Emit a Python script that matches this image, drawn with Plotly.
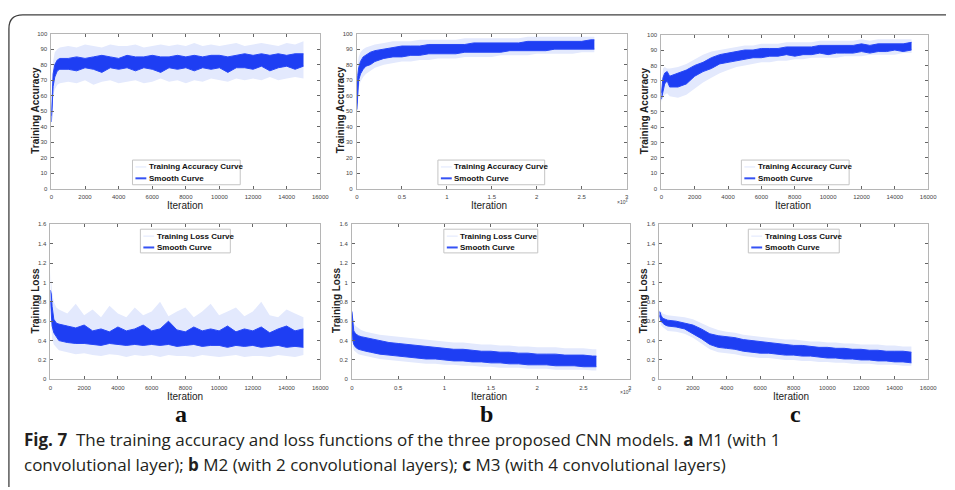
import plotly.graph_objects as go

W, H = 955, 490

# ---------------- data ----------------
XA = [0, 50, 100, 200, 350, 500, 1000, 1500, 2000, 2500, 3000, 3500, 4000, 4500, 5000,
      5500, 6000, 6500, 7000, 7500, 8000, 8500, 9000, 9500, 10000, 10500, 11000, 11500,
      12000, 12500, 13000, 13500, 14000, 14500, 15000]
XB = [0, 50, 100, 200, 400, 700, 1000, 1500, 2000, 3000, 4000, 5000, 6000, 7000, 8000,
      9000, 10000, 11000, 12000, 13000, 14000, 15000, 16000, 17000, 18000, 19000, 20000,
      21000, 22000, 23000, 24000, 25000, 26000, 26400]

# M1 accuracy
a_acc_smooth_lo = [43, 58, 66, 72, 76, 77, 77, 76, 78, 77, 75, 78, 77, 78, 76, 78, 77, 75, 78, 77,
                   78, 76, 78, 77, 78, 75, 78, 78, 77, 79, 76, 78, 79, 77, 79]
a_acc_smooth_hi = [47, 66, 74, 80, 83, 84, 84, 85, 84, 85, 86, 85, 84, 86, 85, 85, 86, 85, 85, 86,
                   85, 86, 85, 86, 86, 85, 86, 87, 86, 87, 86, 87, 86, 87, 87]
a_acc_raw_lo = [40, 52, 60, 64, 67, 68, 69, 68, 70, 67, 69, 70, 68, 69, 70, 68, 69, 71, 69, 70,
                68, 70, 69, 71, 70, 69, 71, 70, 71, 70, 72, 70, 71, 72, 71]
a_acc_raw_hi = [50, 72, 82, 88, 90, 91, 92, 91, 93, 92, 91, 93, 92, 92, 93, 91, 92, 93, 92, 93,
                92, 94, 92, 93, 92, 93, 94, 92, 93, 94, 93, 92, 94, 93, 95]

# M2 accuracy
b_acc_smooth_lo = [51, 58, 64, 70, 74, 77, 79, 80, 82, 84, 85, 85, 86, 86, 87, 87, 87, 87, 88, 88,
                   88, 88, 88, 89, 89, 89, 89, 89, 90, 90, 90, 90, 90, 90]
b_acc_smooth_hi = [55, 66, 73, 78, 82, 85, 86, 88, 89, 90, 91, 92, 92, 92, 93, 93, 93, 93, 93, 94,
                   94, 94, 94, 94, 94, 95, 95, 95, 95, 95, 95, 95, 96, 96]
b_acc_raw_lo = [48, 55, 60, 65, 69, 72, 74, 76, 78, 80, 81, 82, 82, 83, 83, 84, 84, 84, 85, 85,
                85, 85, 86, 86, 86, 86, 87, 87, 87, 87, 87, 88, 88, 88]
b_acc_raw_hi = [58, 72, 80, 85, 88, 90, 91, 92, 93, 94, 95, 95, 95, 96, 96, 96, 96, 96, 97, 97,
                97, 97, 97, 97, 97, 98, 98, 98, 98, 98, 98, 98, 98, 98]

# M3 accuracy
c_acc_smooth_lo = [58, 61, 64, 68, 70, 66, 66, 68, 73, 76, 78, 81, 82, 83, 84, 85, 85, 86, 86, 87,
                   86, 87, 87, 88, 87, 88, 88, 88, 89, 88, 89, 89, 90, 89, 90]
c_acc_smooth_hi = [62, 67, 72, 75, 76, 73, 75, 77, 80, 82, 85, 87, 88, 89, 90, 90, 91, 91, 91, 92,
                   92, 92, 92, 93, 93, 93, 93, 93, 94, 93, 94, 94, 94, 94, 95]
c_acc_raw_lo = [56, 58, 59, 61, 62, 60, 59, 61, 65, 69, 72, 75, 77, 79, 80, 81, 82, 82, 83, 83,
                84, 84, 85, 85, 85, 85, 86, 86, 86, 87, 87, 87, 87, 88, 88]
c_acc_raw_hi = [64, 72, 78, 79, 78, 78, 79, 81, 84, 87, 89, 90, 91, 92, 93, 93, 94, 94, 94, 95,
                95, 95, 95, 96, 96, 96, 96, 96, 97, 96, 97, 97, 97, 97, 97]

# M1 loss
a_loss_smooth_lo = [0.80, 0.65, 0.55, 0.48, 0.44, 0.40, 0.38, 0.37, 0.37, 0.36, 0.35, 0.37, 0.36,
                    0.35, 0.36, 0.35, 0.36, 0.35, 0.36, 0.34, 0.35, 0.36, 0.34, 0.35, 0.35, 0.33,
                    0.35, 0.34, 0.35, 0.33, 0.34, 0.35, 0.33, 0.34, 0.33]
a_loss_smooth_hi = [0.92, 0.88, 0.75, 0.62, 0.58, 0.57, 0.55, 0.53, 0.56, 0.50, 0.52, 0.49, 0.54,
                    0.50, 0.52, 0.56, 0.50, 0.52, 0.60, 0.51, 0.49, 0.54, 0.50, 0.52, 0.50, 0.55,
                    0.49, 0.52, 0.50, 0.54, 0.48, 0.52, 0.55, 0.50, 0.52]
a_loss_raw_lo = [0.70, 0.50, 0.42, 0.36, 0.33, 0.30, 0.28, 0.26, 0.27, 0.25, 0.24, 0.26, 0.25,
                 0.23, 0.25, 0.24, 0.25, 0.23, 0.25, 0.24, 0.24, 0.23, 0.25, 0.24, 0.23, 0.24,
                 0.25, 0.23, 0.24, 0.24, 0.23, 0.25, 0.24, 0.23, 0.25]
a_loss_raw_hi = [1.12, 1.00, 0.90, 0.80, 0.74, 0.72, 0.68, 0.78, 0.66, 0.72, 0.64, 0.76, 0.68,
                 0.64, 0.74, 0.66, 0.70, 0.80, 0.65, 0.70, 0.74, 0.64, 0.70, 0.78, 0.66, 0.70,
                 0.74, 0.65, 0.70, 0.80, 0.66, 0.64, 0.72, 0.68, 0.64]

# M2 loss
b_loss_smooth_lo = [0.60, 0.46, 0.40, 0.36, 0.33, 0.31, 0.30, 0.29, 0.28, 0.26, 0.25, 0.24, 0.23,
                    0.22, 0.21, 0.21, 0.20, 0.19, 0.19, 0.18, 0.18, 0.17, 0.17, 0.16, 0.16, 0.15,
                    0.15, 0.15, 0.14, 0.14, 0.14, 0.13, 0.13, 0.13]
b_loss_smooth_hi = [0.70, 0.62, 0.56, 0.50, 0.47, 0.45, 0.44, 0.43, 0.42, 0.40, 0.38, 0.37, 0.36,
                    0.35, 0.34, 0.33, 0.32, 0.31, 0.31, 0.30, 0.29, 0.29, 0.28, 0.28, 0.27, 0.27,
                    0.26, 0.26, 0.26, 0.25, 0.25, 0.25, 0.24, 0.24]
b_loss_raw_lo = [0.55, 0.40, 0.34, 0.30, 0.28, 0.26, 0.25, 0.24, 0.23, 0.21, 0.20, 0.19, 0.18,
                 0.17, 0.16, 0.16, 0.15, 0.15, 0.14, 0.14, 0.13, 0.13, 0.12, 0.12, 0.12, 0.11,
                 0.11, 0.11, 0.10, 0.10, 0.10, 0.10, 0.09, 0.09]
b_loss_raw_hi = [0.72, 0.68, 0.62, 0.58, 0.55, 0.53, 0.51, 0.49, 0.48, 0.46, 0.45, 0.44, 0.43,
                 0.42, 0.41, 0.40, 0.39, 0.38, 0.38, 0.37, 0.36, 0.36, 0.35, 0.35, 0.34, 0.34,
                 0.33, 0.33, 0.33, 0.32, 0.32, 0.32, 0.31, 0.31]

# M3 loss
c_loss_smooth_lo = [0.66, 0.63, 0.60, 0.58, 0.56, 0.55, 0.54, 0.52, 0.47, 0.42, 0.36, 0.33, 0.32,
                    0.31, 0.29, 0.28, 0.27, 0.27, 0.26, 0.25, 0.25, 0.24, 0.24, 0.23, 0.22, 0.22,
                    0.21, 0.21, 0.20, 0.20, 0.19, 0.19, 0.18, 0.18, 0.17]
c_loss_smooth_hi = [0.70, 0.69, 0.66, 0.63, 0.62, 0.61, 0.60, 0.58, 0.56, 0.52, 0.47, 0.45, 0.44,
                    0.43, 0.41, 0.40, 0.39, 0.38, 0.37, 0.36, 0.35, 0.35, 0.34, 0.33, 0.33, 0.32,
                    0.32, 0.31, 0.31, 0.30, 0.30, 0.29, 0.29, 0.29, 0.28]
c_loss_raw_lo = [0.64, 0.60, 0.56, 0.54, 0.52, 0.50, 0.49, 0.47, 0.43, 0.37, 0.31, 0.28, 0.27,
                 0.26, 0.24, 0.23, 0.22, 0.22, 0.21, 0.20, 0.20, 0.19, 0.19, 0.18, 0.18, 0.17,
                 0.17, 0.16, 0.16, 0.16, 0.15, 0.15, 0.15, 0.14, 0.14]
c_loss_raw_hi = [0.72, 0.71, 0.70, 0.68, 0.67, 0.66, 0.65, 0.64, 0.62, 0.58, 0.54, 0.51, 0.49,
                 0.48, 0.46, 0.45, 0.44, 0.43, 0.42, 0.41, 0.41, 0.40, 0.39, 0.39, 0.38, 0.38,
                 0.37, 0.37, 0.36, 0.36, 0.36, 0.35, 0.35, 0.34, 0.34]

acc_ticks = [0, 10, 20, 30, 40, 50, 60, 70, 80, 90, 100]
loss_ticks = [0, 0.2, 0.4, 0.6, 0.8, 1, 1.2, 1.4, 1.6]
iter_ticks_16k = [0, 2000, 4000, 6000, 8000, 10000, 12000, 14000, 16000]
iter_ticks_30k = [0, 5000, 10000, 15000, 20000, 25000, 30000]
iter_labels_30k = ["0", "0.5", "1", "1.5", "2", "2.5", "3"]

panel_letters = ["a", "b", "c"]
acc_legend = ["Training Accuracy Curve", "Smooth Curve"]
loss_legend = ["Training Loss Curve", "Smooth Curve"]
x_title = "Iteration"
caption_1 = "<b>Fig. 7</b>  The training accuracy and loss functions of the three proposed CNN models. <b>a</b> M1 (with 1"
caption_2 = "convolutional layer); <b>b</b> M2 (with 2 convolutional layers); <b>c</b> M3 (with 4 convolutional layers)"

# ---------------- layout helpers ----------------
def px(v):
    return v / W

def py(v):
    return 1 - v / H

RAW_FILL = "#e3e9fd"
SM_FILL = "#1e3ef3"
SM_EDGE = "#2848f6"

panels = [
    dict(x=XA, s_lo=a_acc_smooth_lo, s_hi=a_acc_smooth_hi, r_lo=a_acc_raw_lo, r_hi=a_acc_raw_hi,
         box=(50, 322, 31, 188), kind="acc", xmode="16k", leg=(132, 241, 159, 184),
         ytx=34, xtx=185),
    dict(x=XB, s_lo=b_acc_smooth_lo, s_hi=b_acc_smooth_hi, r_lo=b_acc_raw_lo, r_hi=b_acc_raw_hi,
         box=(359, 632, 31, 188), kind="acc", xmode="30k", leg=(441, 549, 159, 184),
         ytx=342, xtx=493),
    dict(x=XA, s_lo=c_acc_smooth_lo, s_hi=c_acc_smooth_hi, r_lo=c_acc_raw_lo, r_hi=c_acc_raw_hi,
         box=(667, 937, 32, 188), kind="acc", xmode="16k", leg=(748, 857, 159, 184),
         ytx=650, xtx=800),
    dict(x=XA, s_lo=a_loss_smooth_lo, s_hi=a_loss_smooth_hi, r_lo=a_loss_raw_lo, r_hi=a_loss_raw_hi,
         box=(49, 322, 224, 381), kind="loss", xmode="16k", leg=(140, 231, 229, 253),
         ytx=34, xtx=185),
    dict(x=XB, s_lo=b_loss_smooth_lo, s_hi=b_loss_smooth_hi, r_lo=b_loss_raw_lo, r_hi=b_loss_raw_hi,
         box=(354, 635, 224, 381), kind="loss", xmode="30k", leg=(447, 542, 229, 253),
         ytx=339, xtx=493),
    dict(x=XA, s_lo=c_loss_smooth_lo, s_hi=c_loss_smooth_hi, r_lo=c_loss_raw_lo, r_hi=c_loss_raw_hi,
         box=(665, 937, 224, 381), kind="loss", xmode="16k", leg=(755, 847, 229, 253),
         ytx=649, xtx=798),
]

fig = go.Figure()
layout = dict(width=W, height=H, margin=dict(l=0, r=0, t=0, b=0),
              paper_bgcolor="white", plot_bgcolor="white", showlegend=False)
shapes, annotations = [], []

tickfont = dict(family="Liberation Sans", size=6, color="#444")


def note(x, y, text, size, family="Liberation Sans", color="#222", xanchor="center", angle=0):
    return dict(x=px(x), y=py(y), xref="paper", yref="paper", text=text, showarrow=False,
                xanchor=xanchor, yanchor="middle", textangle=angle,
                font=dict(family=family, size=size, color=color))


for i, p in enumerate(panels, start=1):
    xa = "x" if i == 1 else f"x{i}"
    ya = "y" if i == 1 else f"y{i}"
    xl = "xaxis" if i == 1 else f"xaxis{i}"
    yl = "yaxis" if i == 1 else f"yaxis{i}"
    x0, x1, y0, y1 = p["box"]

    # raw curve envelope (faint)
    fig.add_trace(go.Scatter(x=p["x"], y=p["r_lo"], mode="lines", line=dict(width=0),
                             xaxis=xa, yaxis=ya, hoverinfo="skip"))
    fig.add_trace(go.Scatter(x=p["x"], y=p["r_hi"], mode="lines", line=dict(width=0),
                             fill="tonexty", fillcolor=RAW_FILL, xaxis=xa, yaxis=ya, hoverinfo="skip"))
    # smooth curve envelope
    fig.add_trace(go.Scatter(x=p["x"], y=p["s_lo"], mode="lines", line=dict(color=SM_EDGE, width=1),
                             xaxis=xa, yaxis=ya, hoverinfo="skip"))
    fig.add_trace(go.Scatter(x=p["x"], y=p["s_hi"], mode="lines", line=dict(color=SM_EDGE, width=1),
                             fill="tonexty", fillcolor=SM_FILL, xaxis=xa, yaxis=ya, hoverinfo="skip"))

    common = dict(showline=True, mirror="ticks", linecolor="#b5b5b5", linewidth=1,
                  ticks="inside", ticklen=3, tickcolor="#666", tickfont=tickfont,
                  showgrid=False, zeroline=False, ticklabelstandoff=2)
    if p["xmode"] == "16k":
        xaxis = dict(range=[0, 16000], tickvals=iter_ticks_16k, tickformat="d", **common)
    else:
        xaxis = dict(range=[0, 30000], tickvals=iter_ticks_30k, ticktext=iter_labels_30k, **common)
    xaxis.update(domain=[px(x0), px(x1)], anchor=ya)
    if p["kind"] == "acc":
        yaxis = dict(range=[0, 100], tickvals=acc_ticks, **common)
        ytitle = "Training Accuracy"
    else:
        yaxis = dict(range=[0, 1.6], tickvals=loss_ticks, **common)
        ytitle = "Training Loss"
    yaxis.update(domain=[py(y1), py(y0)], anchor=xa)
    layout[xl] = xaxis
    layout[yl] = yaxis

    # axis titles
    annotations.append(note(p["ytx"], (y0 + y1) / 2 - 1, f"<b>{ytitle}</b>", 10, angle=-90))
    annotations.append(note(p["xtx"], y1 + 17, x_title, 10))

    if p["xmode"] == "30k":
        annotations.append(note(x1 - 5, y1 + 13, "×10<sup>4</sup>", 5, color="#444"))

    # legend box
    lx0, lx1, ly0, ly1 = p["leg"]
    labels = acc_legend if p["kind"] == "acc" else loss_legend
    shapes.append(dict(type="rect", xref="paper", yref="paper", x0=px(lx0), x1=px(lx1),
                       y0=py(ly1), y1=py(ly0), line=dict(color="#c4c4c4", width=1),
                       fillcolor="white", layer="above"))
    rows = [ly0 + 7, ly0 + 18.5]
    for k, (lab, yy) in enumerate(zip(labels, rows)):
        shapes.append(dict(type="line", xref="paper", yref="paper", x0=px(lx0 + 3), x1=px(lx0 + 14),
                           y0=py(yy), y1=py(yy), layer="above",
                           line=dict(color="#dfe6fd" if k == 0 else "#3552f5", width=1 if k == 0 else 2)))
        annotations.append(note(lx0 + 14.5, yy, f"<b>{lab}</b>", 8, color="#111", xanchor="left"))

# panel letters
for letter, cx in zip(panel_letters, [181, 490, 803]):
    annotations.append(note(cx, 416, f"<b>{letter}</b>", 24, family="Liberation Serif", color="#111"))

# caption
for txt, yy in [(caption_1, 442), (caption_2, 467)]:
    annotations.append(note(20, yy, txt, 17, family="Open Sans", color="#231f20", xanchor="left"))

# outer frame (rounded top-left corner)
frame_path = (f"M {px(7)},{py(490)} L {px(7)},{py(26)} Q {px(7)},{py(12)} {px(21)},{py(12)} "
              f"L {px(955)},{py(12)}")
shapes.append(dict(type="path", xref="paper", yref="paper", path=frame_path,
                   line=dict(color="#404040", width=1.3)))

layout["shapes"] = shapes
layout["annotations"] = annotations
fig.update_layout(**layout)
fig.write_html("out.html")
